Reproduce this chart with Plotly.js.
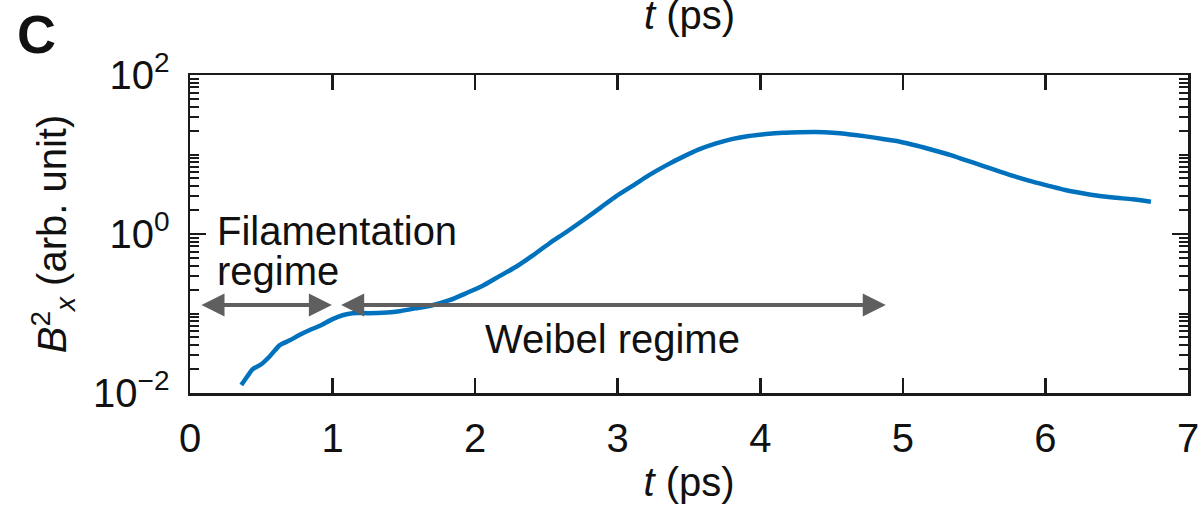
<!DOCTYPE html>
<html>
<head>
<meta charset="utf-8">
<script src="https://cdn.plot.ly/plotly-3.0.1.min.js"></script>
<style>html,body{margin:0;padding:0;background:#fff;}#chart{width:1199px;height:514px;}</style>
</head>
<body>
<div id="chart"></div>
<script>
// Time (ps)
const timePs = [0.36,0.40,0.44,0.50,0.56,0.63,0.70,0.77,0.84,0.91,1.00,1.07,1.14,1.25,1.35,1.47,1.58,1.70,1.82,1.93,2.05,2.17,2.29,2.40,2.52,2.64,2.76,2.88,2.99,3.11,3.22,3.34,3.46,3.57,3.69,3.80,3.92,4.04,4.16,4.28,4.39,4.51,4.63,4.74,4.86,4.98,5.10,5.21,5.33,5.44,5.56,5.68,5.80,5.91,6.03,6.14,6.26,6.38,6.50,6.61,6.74];
// B_x^2 (arb. unit)
const bx2 = [0.0126,0.016,0.020,0.023,0.029,0.040,0.046,0.054,0.062,0.070,0.085,0.095,0.101,0.101,0.102,0.107,0.116,0.127,0.147,0.178,0.222,0.295,0.39,0.53,0.76,1.06,1.5,2.15,3.0,4.1,5.5,7.3,9.4,11.6,13.8,15.6,17.1,18.1,18.8,19.1,19.2,18.8,17.9,16.9,15.7,14.5,12.9,11.4,9.9,8.5,7.2,6.1,5.2,4.55,4.0,3.57,3.25,3.0,2.85,2.73,2.55];

// Regime arrows (t range, level) and labels
const regimeNames = ["Filamentation<br>regime", "Weibel regime"];
const regimeStart = [0.07, 1.05];
const regimeEnd = [0.995, 4.88];
const regimeLevel = [0.128, 0.128];

// Axis ticks
const yTickVals = [0.01, 1, 100];
const yTickText = ["10<sup>\u22122</sup>", "10<sup>0</sup>", "10<sup>2</sup>"];
const xTickVals = [0,1,2,3,4,5,6,7];

const minorVals = [];
for (let e = -2; e < 2; e++) {
  for (let m = 1; m <= 9; m++) {
    const v = m * Math.pow(10, e);
    if (!(m === 1 && (e === -2 || e === 0))) minorVals.push(v);
  }
}

const FONT = "Liberation Sans, Arial, Helvetica, sans-serif";
const AX = "#1a1a1a";
const TXT = "#111";
const FS = 40;

const trace = {
  x: timePs, y: bx2, type: "scatter", mode: "lines",
  line: {color: "#0072BD", width: 4.5, shape: "spline", smoothing: 0.7},
  hoverinfo: "skip"
};

const annotations = [];
regimeNames.forEach((name, i) => {
  annotations.push({
    x: regimeEnd[i], y: Math.log10(regimeLevel[i]),
    ax: regimeStart[i], ay: Math.log10(regimeLevel[i]),
    xref: "x", yref: "y", axref: "x", ayref: "y",
    text: "", showarrow: true, arrowhead: 2, arrowside: "end+start",
    arrowsize: 1.15, arrowwidth: 4, arrowcolor: "#5f5f5f"
  });
});
const filLines = regimeNames[0].split("<br>");
const filY = [0.035, -0.47];
filLines.forEach((ln, k) => {
  annotations.push({
    x: 0.175, y: filY[k], xref: "x", yref: "y",
    text: ln, showarrow: false, xanchor: "left", yanchor: "middle", align: "left",
    font: {family: FONT, size: FS, color: TXT}
  });
});
annotations.push({
  x: 2.96, y: -1.321, xref: "x", yref: "y",
  text: regimeNames[1], showarrow: false, xanchor: "center", yanchor: "middle",
  font: {family: FONT, size: FS, color: TXT}
});
annotations.push({
  x: -0.154, y: 1.13, xref: "paper", yref: "paper",
  text: "<b>C</b>", showarrow: false, xanchor: "center", yanchor: "middle",
  font: {family: FONT, size: 54, color: TXT}
});
annotations.push({
  x: 0.5, y: 1.19, xref: "paper", yref: "paper",
  text: "<i>t</i> (ps)", showarrow: false, xanchor: "center", yanchor: "middle",
  font: {family: FONT, size: FS, color: TXT}
});

const layout = {
  width: 1199, height: 514,
  margin: {l: 190, r: 11, t: 75, b: 121},
  paper_bgcolor: "#fff", plot_bgcolor: "#fff",
  showlegend: false,
  font: {family: FONT, size: FS, color: TXT},
  xaxis: {
    range: [0, 7], tickvals: xTickVals, ticks: "inside", ticklen: 15, tickwidth: 2.5, tickcolor: AX,
    showline: true, linecolor: AX, linewidth: 2.5, mirror: "allticks", showgrid: false, zeroline: false,
    ticklabelstandoff: 8, ticklabeloverflow: "allow",
    tickfont: {family: FONT, size: FS, color: TXT},
    title: {text: "<i>t</i> (ps)", font: {family: FONT, size: FS, color: TXT}, standoff: 10}
  },
  yaxis: {
    type: "log", range: [-2, 2], tickvals: yTickVals, ticktext: yTickText,
    ticks: "inside", ticklen: 16, tickwidth: 2.5, tickcolor: AX,
    showline: true, linecolor: AX, linewidth: 2.5, mirror: "allticks", showgrid: false, zeroline: false,
    ticklabelstandoff: 10,
    tickfont: {family: FONT, size: FS, color: TXT},
    minor: {tickvals: minorVals, ticks: "inside", ticklen: 9, tickwidth: 2, tickcolor: AX, showgrid: false},
    title: {text: "<i>B</i><sup>2</sup><sub><i>x</i></sub> (arb. unit)", font: {family: FONT, size: FS, color: TXT}, standoff: 14}
  },
  annotations: annotations
};

Plotly.newPlot("chart", [trace], layout, {staticPlot: true, displayModeBar: false});
</script>
</body>
</html>
